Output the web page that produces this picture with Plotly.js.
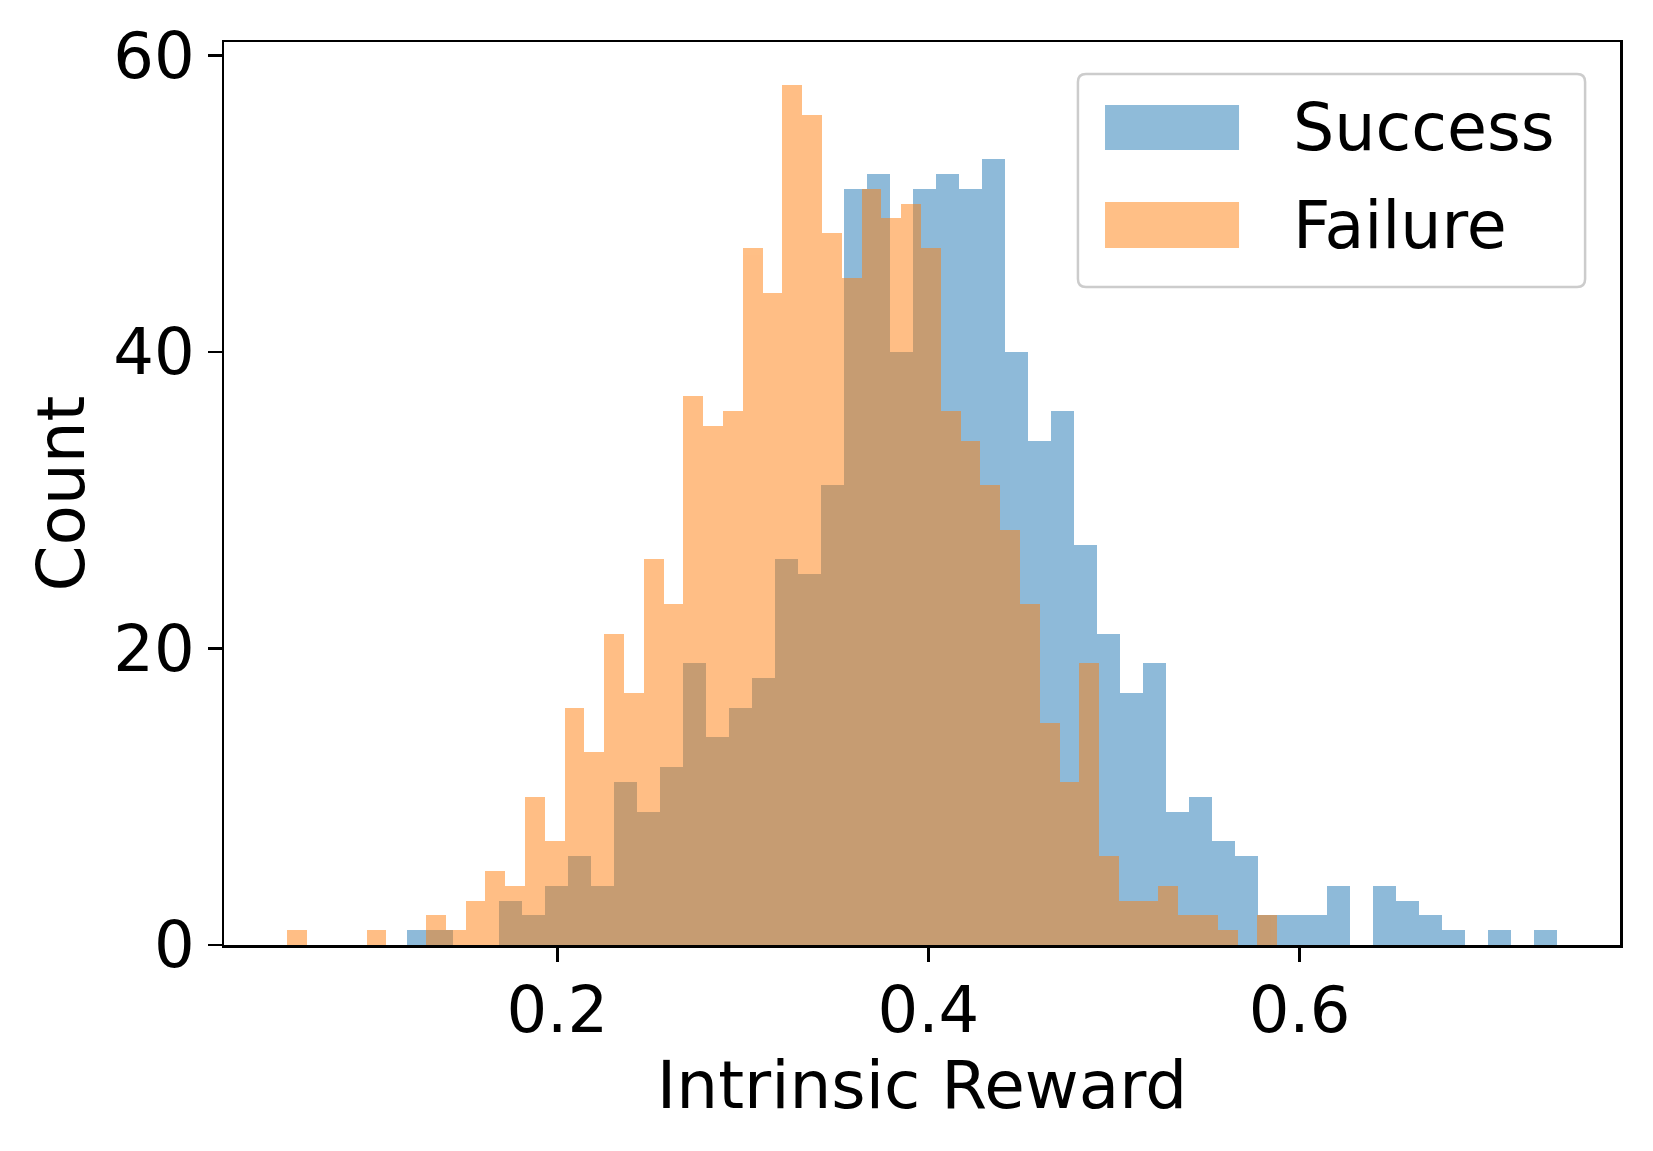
<!DOCTYPE html>
<html>
<head>
<meta charset="utf-8">
<script src="https://cdn.plot.ly/plotly-3.0.1.min.js"></script>
<style>
  html, body { margin: 0; padding: 0; background: #ffffff; }
  #chart { width: 1653px; height: 1151px; }
</style>
</head>
<body>
<div id="chart"></div>
<script>
// ---- Data (50 bins per series) ----
const seriesNames = ['Success', 'Failure'];

// Success histogram: bin range and counts
const successRange = [0.1190, 0.7385];
const successCounts = [
  1, 1, 0, 0, 3, 2, 4, 6, 4, 11,
  9, 12, 19, 14, 16, 18, 26, 25, 31, 51,
  52, 40, 51, 52, 51, 53, 40, 34, 36, 27,
  21, 17, 19, 9, 10, 7, 6, 2, 2, 2,
  4, 0, 4, 3, 2, 1, 0, 1, 0, 1
];

// Failure histogram: bin range and counts
const failureRange = [0.0546, 0.5880];
const failureCounts = [
  1, 0, 0, 0, 1, 0, 0, 2, 1, 3,
  5, 4, 10, 7, 16, 13, 21, 17, 26, 23,
  37, 35, 36, 47, 44, 58, 56, 48, 45, 51,
  49, 50, 47, 36, 34, 31, 28, 23, 15, 11,
  19, 6, 3, 3, 4, 2, 2, 1, 0, 2
];

const xTickVals = [0.2, 0.4, 0.6];
const xTickText = ['0.2', '0.4', '0.6'];
const yTickVals = [0, 20, 40, 60];
const yTickText = ['0', '20', '40', '60'];
const xTitle = 'Intrinsic Reward';
const yTitle = 'Count';

// ---- Build bar traces from bin ranges ----
function binCenters(range, n) {
  const w = (range[1] - range[0]) / n;
  const xs = [];
  for (let i = 0; i < n; i++) xs.push(range[0] + (i + 0.5) * w);
  return { xs: xs, w: w };
}

const sBins = binCenters(successRange, successCounts.length);
const fBins = binCenters(failureRange, failureCounts.length);

const C0 = '#1f77b4';
const C1 = '#ff7f0e';

const traces = [
  {
    type: 'bar', name: seriesNames[0],
    x: sBins.xs, y: successCounts, width: sBins.w,
    marker: { color: C0, line: { width: 0 } },
    opacity: 0.5, showlegend: false, hoverinfo: 'x+y'
  },
  {
    type: 'bar', name: seriesNames[1],
    x: fBins.xs, y: failureCounts, width: fBins.w,
    marker: { color: C1, line: { width: 0 } },
    opacity: 0.5, showlegend: false, hoverinfo: 'x+y'
  }
];

// x range: matplotlib-like 5% margins around the data extent
const dataMin = Math.min(successRange[0], failureRange[0]);
const dataMax = Math.max(successRange[1], failureRange[1]);
const span = dataMax - dataMin;
const xRange = [dataMin - 0.05 * span, dataMax + 0.05 * span];
const yMax = Math.max(...successCounts, ...failureCounts) * 1.05;

const FONT = 'DejaVu Sans, sans-serif';

// ---- Legend drawn as shapes + annotations (matplotlib style) ----
const lx0 = 0.6117, lx1 = 0.975, ly0 = 0.7287, ly1 = 0.9646;
const rx = 8 / 1396, ry = 8 / 903;
const legendPath =
  `M ${lx0 + rx},${ly1} L ${lx1 - rx},${ly1} Q ${lx1},${ly1} ${lx1},${ly1 - ry} ` +
  `L ${lx1},${ly0 + ry} Q ${lx1},${ly0} ${lx1 - rx},${ly0} ` +
  `L ${lx0 + rx},${ly0} Q ${lx0},${ly0} ${lx0},${ly0 + ry} ` +
  `L ${lx0},${ly1 - ry} Q ${lx0},${ly1} ${lx0 + rx},${ly1} Z`;

const shapes = [
  { type: 'path', xref: 'paper', yref: 'paper', path: legendPath,
    fillcolor: 'rgba(255,255,255,0.8)', line: { color: '#cccccc', width: 2.5 } },
  { type: 'rect', xref: 'paper', yref: 'paper', x0: 0.6311, x1: 0.7271, y0: 0.8804, y1: 0.9302,
    fillcolor: C0, opacity: 0.5, line: { width: 0 } },
  { type: 'rect', xref: 'paper', yref: 'paper', x0: 0.6311, x1: 0.7271, y0: 0.7719, y1: 0.8228,
    fillcolor: C1, opacity: 0.5, line: { width: 0 } }
];

const annotations = [
  { xref: 'paper', yref: 'paper', x: 0.7642, y: 0.9053, xanchor: 'left', yanchor: 'middle',
    text: seriesNames[0], showarrow: false, font: { family: FONT, size: 65, color: '#000' } },
  { xref: 'paper', yref: 'paper', x: 0.7642, y: 0.7973, xanchor: 'left', yanchor: 'middle',
    text: seriesNames[1], showarrow: false, font: { family: FONT, size: 65, color: '#000' } }
];

const layout = {
  width: 1653, height: 1151,
  margin: { l: 224, r: 33, t: 42, b: 206, pad: 0 },
  paper_bgcolor: '#ffffff', plot_bgcolor: '#ffffff',
  barmode: 'overlay', bargap: 0,
  showlegend: false,
  font: { family: FONT, color: '#000000', size: 64 },
  xaxis: {
    range: xRange, autorange: false,
    tickmode: 'array', tickvals: xTickVals, ticktext: xTickText,
    ticks: 'outside', ticklen: 14, tickwidth: 2.5, tickcolor: '#000',
    ticklabelstandoff: -6,
    tickfont: { family: FONT, size: 64, color: '#000' },
    showline: true, linecolor: '#000', linewidth: 2.5, mirror: true,
    showgrid: false, zeroline: false, automargin: false,
    title: { text: xTitle, font: { family: FONT, size: 66, color: '#000' }, standoff: 10 }
  },
  yaxis: {
    range: [0, yMax], autorange: false,
    tickmode: 'array', tickvals: yTickVals, ticktext: yTickText,
    ticks: 'outside', ticklen: 14, tickwidth: 2.5, tickcolor: '#000',
    tickfont: { family: FONT, size: 64, color: '#000' },
    showline: true, linecolor: '#000', linewidth: 2.5, mirror: true,
    showgrid: false, zeroline: false, automargin: false,
    title: { text: yTitle, font: { family: FONT, size: 66, color: '#000' }, standoff: 7 }
  },
  shapes: shapes,
  annotations: annotations
};

Plotly.newPlot('chart', traces, layout, { displayModeBar: false, staticPlot: true });
</script>
</body>
</html>
